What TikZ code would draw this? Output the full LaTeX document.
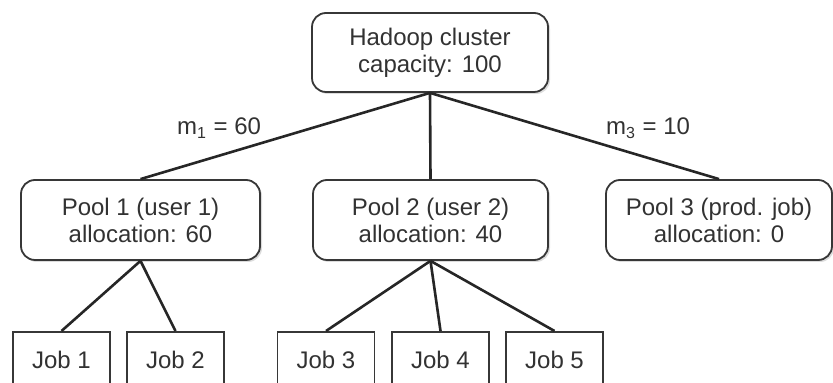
\documentclass[tikz,border=0pt]{standalone}
\usepackage{fontspec}
\setmainfont{Liberation Sans}
\usetikzlibrary{shadows}
\definecolor{boxgray}{RGB}{55,55,55}
\definecolor{txtgray}{RGB}{50,50,50}
\tikzset{
  poolbox/.style={draw=boxgray, line width=0.9pt, rounded corners=7pt, fill=white,
    align=center, text=txtgray, font=\fontsize{12}{13.5}\selectfont, inner sep=0pt,
    drop shadow={shadow xshift=1pt, shadow yshift=-1pt, fill=gray!55}},
  jobbox/.style={draw=boxgray, line width=0.8pt, fill=white, text=txtgray,
    font=\fontsize{12}{13.5}\selectfont, minimum width=48.5pt, minimum height=28.5pt,
    anchor=north, inner sep=0pt},
  branch/.style={line width=1.3pt, black!85},
  weight/.style={text=txtgray, font=\fontsize{12}{13.5}\selectfont}
}

\begin{document}
\begin{tikzpicture}[x=0.5pt, y=-0.5pt]
        \useasboundingbox (0,0) rectangle (833,383);
        \clip (0,0) rectangle (833,383);
        % cluster and pools
        \node[poolbox, minimum width=118pt, minimum height=39.5pt] (cluster) at (430,52.5) {Hadoop cluster\\capacity: 100};
        \node[poolbox, minimum width=119.5pt, minimum height=40pt] (pool1) at (140.5,220) {Pool 1 (user 1)\\allocation: 60};
        \node[poolbox, minimum width=117.5pt, minimum height=40pt] (pool2) at (430.5,220) {Pool 2 (user 2)\\allocation: 40};
        \node[poolbox, minimum width=113pt, minimum height=40pt] (pool3) at (719,220) {Pool 3 (prod. job)\\allocation: 0};
        % jobs
        \node[jobbox] (job1) at (61.5,331) {Job 1};
        \node[jobbox] (job2) at (175.5,331) {Job 2};
        \node[jobbox] (job3) at (326,331) {Job 3};
        \node[jobbox] (job4) at (440.5,331) {Job 4};
        \node[jobbox] (job5) at (554.5,331) {Job 5};
        % branches
        \draw[branch] (cluster.south) -- (pool1.north);
        \draw[branch] (cluster.south) -- (pool2.north);
        \draw[branch] (cluster.south) -- (pool3.north);
        \foreach \j in {job1,job2} \draw[branch] (pool1.south) -- (\j.north);
        \foreach \j in {job3,job4,job5} \draw[branch] (pool2.south) -- (\j.north);
        \node[weight] (w1) at (219,128) {m\textsubscript{1} = 60};
        \node[weight] (w3) at (648,128) {m\textsubscript{3} = 10};
    \end{tikzpicture}
\end{document}
